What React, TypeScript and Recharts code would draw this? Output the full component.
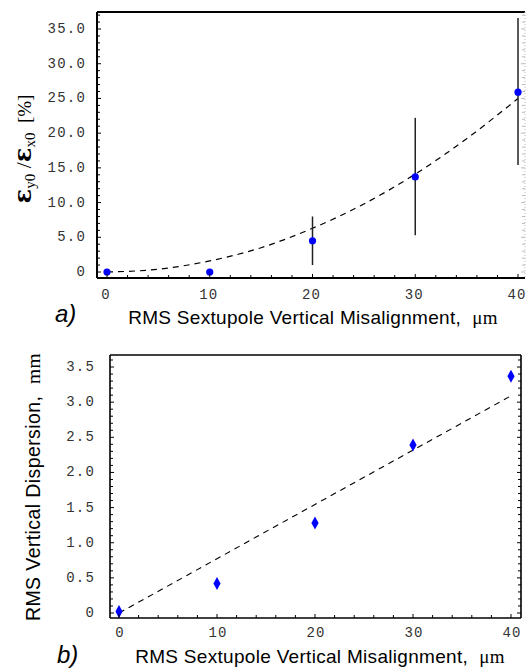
import React from "react";
import { ComposedChart, Scatter, Line, XAxis, YAxis, ErrorBar } from "recharts";

// ---- Panel a) data ----
const xTop = [0, 10, 20, 30, 40];
const yTop = [0, 0, 4.5, 13.7, 25.9];
const errLowTop = [0, 0, 3.5, 8.4, 10.5];
const errHighTop = [0, 0, 3.5, 8.5, 10.7];
const fitXTop = [0, 5, 10, 15, 20, 25, 30, 35, 40];
const fitYTop = [0, 0.4, 1.6, 3.5, 6.3, 9.8, 14.1, 19.2, 25.0];
const xTickValsTop = [0, 10, 20, 30, 40];
const xTickLabelsTop = ["0", "10", "20", "30", "40"];
const yTickValsTop = [0, 5, 10, 15, 20, 25, 30, 35];
const yTickLabelsTop = ["0", "5.0", "10.0", "15.0", "20.0", "25.0", "30.0", "35.0"];

// ---- Panel b) data ----
const xBot = [0, 10, 20, 30, 40];
const yBot = [0.02, 0.42, 1.28, 2.39, 3.37];
const fitXBot = [0, 40];
const fitYBot = [0, 3.09];
const xTickValsBot = [0, 10, 20, 30, 40];
const xTickLabelsBot = ["0", "10", "20", "30", "40"];
const yTickValsBot = [0, 0.5, 1, 1.5, 2, 2.5, 3, 3.5];
const yTickLabelsBot = ["0", "0.5", "1.0", "1.5", "2.0", "2.5", "3.0", "3.5"];

const range = (a: number, b: number, step: number) => {
  const out: number[] = [];
  const n = Math.round((b - a) / step);
  for (let i = 0; i <= n; i++) out.push(Math.round((a + i * step) * 1000) / 1000);
  return out;
};

const topScatter = xTop.map((x, i) => ({ x, y: yTop[i], err: [errLowTop[i], errHighTop[i]] }));
const topFit = fitXTop.map((x, i) => ({ x, y: fitYTop[i] }));
const botScatter = xBot.map((x, i) => ({ x, y: yBot[i] }));
const botFit = fitXBot.map((x, i) => ({ x, y: fitYBot[i] }));

const TICK_FONT = "'Liberation Mono', 'DejaVu Sans Mono', monospace";
const TICK_FILL = "#333";
const SANS = "'Liberation Sans', Arial, sans-serif";
const SERIF = "'Liberation Serif', serif";

function makeTick(
  orient: "bottom" | "top" | "left" | "right",
  vals: number[],
  labels: string[] | null,
  off: number,
  color: string,
  dx: number = 0
) {
  return (props: any) => {
    const { x, y, payload } = props;
    const v = payload.value;
    const idx = vals.findIndex((t) => Math.abs(t - v) < 1e-6);
    const major = idx >= 0;
    const len = major ? 4 : 3;
    let line;
    if (orient === "bottom") line = <line x1={x} y1={y} x2={x} y2={y - len} stroke={color} strokeWidth={1} />;
    else if (orient === "top") line = <line x1={x} y1={y} x2={x} y2={y + len} stroke={color} strokeWidth={1} />;
    else if (orient === "left") line = <line x1={x} y1={y} x2={x + len} y2={y} stroke={color} strokeWidth={1} />;
    else line = <line x1={x} y1={y} x2={x - len} y2={y} stroke={color} strokeWidth={1} />;
    let label = null;
    if (labels && major) {
      if (orient === "bottom") {
        label = (
          <text x={x + dx} y={y + off} textAnchor="middle" dominantBaseline="central" fontFamily={TICK_FONT} fontSize={14} fill={TICK_FILL} letterSpacing="1.1px">
            {labels[idx]}
          </text>
        );
      } else if (orient === "left") {
        label = (
          <text x={x - off} y={y} textAnchor="end" dominantBaseline="central" fontFamily={TICK_FONT} fontSize={14} fill={TICK_FILL} letterSpacing="1.2px">
            {labels[idx]}
          </text>
        );
      }
    }
    return (
      <g>
        {line}
        {label}
      </g>
    );
  };
}

const Dot = (props: any) => {
  const { cx, cy } = props;
  if (cx == null || cy == null) return <g />;
  return <circle cx={cx} cy={cy} r={3.6} fill="#0000ff" />;
};

const Diamond = (props: any) => {
  const { cx, cy } = props;
  if (cx == null || cy == null) return <g />;
  return <polygon points={`${cx},${cy - 6.5} ${cx + 3.6},${cy} ${cx},${cy + 6.5} ${cx - 3.6},${cy}`} fill="#0000ff" />;
};

const NB = "\u00A0";

const TopLabels = () => (
  <g>
    <text transform="translate(31,149) rotate(-90)" textAnchor="middle" fill="#000">
      <tspan fontFamily="'DejaVu Serif', serif" fontSize={24} fontWeight="bold">ε</tspan>
      <tspan fontFamily={SERIF} fontSize={15} dy={4}>y0</tspan>
      <tspan fontFamily={SERIF} fontSize={22} dy={-4}>{NB}/</tspan>
      <tspan fontFamily="'DejaVu Serif', serif" fontSize={24} fontWeight="bold">ε</tspan>
      <tspan fontFamily={SERIF} fontSize={15} dy={4}>x0</tspan>
      <tspan fontFamily={SERIF} fontSize={19} dy={-4}>{NB}{NB}[%]</tspan>
    </text>
    <text x={313} y={324} textAnchor="middle" fill="#000" letterSpacing="0.3px">
      <tspan fontFamily={SANS} fontSize={19}>RMS Sextupole Vertical Misalignment,{NB}{NB}</tspan>
      <tspan fontFamily={SERIF} fontSize={19}>μm</tspan>
    </text>
    <text x={55} y={322} fontFamily={SANS} fontStyle="italic" fontSize={24} fill="#000">a)</text>
  </g>
);

const BotLabels = () => (
  <g>
    <text transform="translate(40,157) rotate(-90)" textAnchor="middle" fill="#000" letterSpacing="0.4px">
      <tspan fontFamily={SANS} fontSize={19.5}>RMS Vertical Dispersion,{NB}{NB}</tspan>
      <tspan fontFamily={SERIF} fontSize={19.5}>mm</tspan>
    </text>
    <text x={320} y={333} textAnchor="middle" fill="#000" letterSpacing="0.3px">
      <tspan fontFamily={SANS} fontSize={19}>RMS Sextupole Vertical Misalignment,{NB}{NB}</tspan>
      <tspan fontFamily={SERIF} fontSize={19}>μm</tspan>
    </text>
    <text x={57} y={333} fontFamily={SANS} fontStyle="italic" fontSize={24} fill="#000">b)</text>
  </g>
);

const topXDomain: [number, number] = [-0.973, 40.68];
const topYDomain: [number, number] = [-0.864, 37.45];
const botXDomain: [number, number] = [-0.918, 41.02];
const botYDomain: [number, number] = [-0.071, 3.671];

export default function App() {
  const topXTicks = range(0, 40, 2);
  const topYTicks = range(0, 37, 1);
  const botXTicks = range(0, 40, 2);
  const botYTicks = range(0, 3.6, 0.1);
  return (
    <div style={{ position: "absolute", left: 0, top: 0, width: 527, height: 669, background: "#fff" }}>
      <div style={{ position: "absolute", left: 0, top: 0 }}>
        <ComposedChart width={527} height={330} margin={{ top: 11, right: 1, bottom: 51, left: 96 }}>
          <XAxis xAxisId={0} dataKey="x" type="number" domain={topXDomain} allowDataOverflow ticks={topXTicks} interval={0}
            height={1} tickSize={0} tickMargin={0} tickLine={false} axisLine={{ stroke: "#000", strokeWidth: 2 }}
            tick={makeTick("bottom", xTickValsTop, xTickLabelsTop, 17, "#000", -1)} label={<TopLabels />} />
          <XAxis xAxisId="t" orientation="top" type="number" domain={topXDomain} allowDataOverflow ticks={topXTicks} interval={0}
            height={1} tickSize={0} tickMargin={0} tickLine={false} axisLine={{ stroke: "#000", strokeWidth: 2 }}
            tick={makeTick("top", xTickValsTop, null, 0, "#000")} />
          <YAxis yAxisId={0} type="number" domain={topYDomain} allowDataOverflow ticks={topYTicks} interval={0}
            width={1} tickSize={0} tickMargin={0} tickLine={false} axisLine={{ stroke: "#000", strokeWidth: 2 }}
            tick={makeTick("left", yTickValsTop, yTickLabelsTop, 11, "#000")} />
          <YAxis yAxisId="r" orientation="right" type="number" domain={topYDomain} allowDataOverflow ticks={topYTicks} interval={0}
            width={1} tickSize={0} tickMargin={0} tickLine={false} axisLine={{ stroke: "#bbb", strokeWidth: 1, strokeDasharray: "1 2" }}
            tick={makeTick("right", yTickValsTop, null, 0, "#bbb")} />
          <Line data={topFit} dataKey="y" type="monotone" dot={false} stroke="#000" strokeWidth={1.2} strokeDasharray="6 5" isAnimationActive={false} />
          <Scatter data={topScatter} dataKey="y" shape={<Dot />} isAnimationActive={false}>
            <ErrorBar dataKey="err" direction="y" width={0} stroke="#222" strokeWidth={1.5} />
          </Scatter>
        </ComposedChart>
      </div>
      <div style={{ position: "absolute", left: 0, top: 330 }}>
        <ComposedChart width={527} height={339} margin={{ top: 24, right: 5, bottom: 50, left: 109 }}>
          <XAxis xAxisId={0} dataKey="x" type="number" domain={botXDomain} allowDataOverflow ticks={botXTicks} interval={0}
            height={1} tickSize={0} tickMargin={0} tickLine={false} axisLine={{ stroke: "#000", strokeWidth: 1.6 }}
            tick={makeTick("bottom", xTickValsBot, xTickLabelsBot, 15, "#000", 1)} label={<BotLabels />} />
          <XAxis xAxisId="t" orientation="top" type="number" domain={botXDomain} allowDataOverflow ticks={botXTicks} interval={0}
            height={1} tickSize={0} tickMargin={0} tickLine={false} axisLine={{ stroke: "#000", strokeWidth: 1.6 }}
            tick={makeTick("top", xTickValsBot, null, 0, "#000")} />
          <YAxis yAxisId={0} type="number" domain={botYDomain} allowDataOverflow ticks={botYTicks} interval={0}
            width={1} tickSize={0} tickMargin={0} tickLine={false} axisLine={{ stroke: "#000", strokeWidth: 1.6 }}
            tick={makeTick("left", yTickValsBot, yTickLabelsBot, 15, "#000")} />
          <YAxis yAxisId="r" orientation="right" type="number" domain={botYDomain} allowDataOverflow ticks={botYTicks} interval={0}
            width={1} tickSize={0} tickMargin={0} tickLine={false} axisLine={{ stroke: "#000", strokeWidth: 1.6 }}
            tick={makeTick("right", yTickValsBot, null, 0, "#000")} />
          <Line data={botFit} dataKey="y" type="linear" dot={false} stroke="#000" strokeWidth={1.1} strokeDasharray="6 5" isAnimationActive={false} />
          <Scatter data={botScatter} dataKey="y" shape={<Diamond />} isAnimationActive={false} />
        </ComposedChart>
      </div>
    </div>
  );
}
